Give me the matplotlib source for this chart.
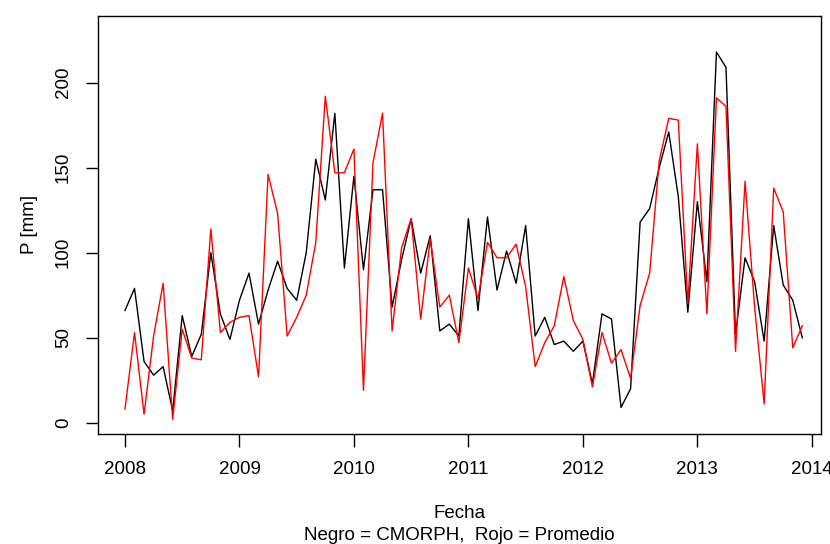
import numpy as np
import matplotlib
matplotlib.use("Agg")
import matplotlib.pyplot as plt

plt.rcParams['font.family'] = ['Liberation Sans', 'DejaVu Sans']

# ------------------------------
# datos mensuales 2008-01 .. 2013-12
# ------------------------------
inicio = 2008
cmorph = [66, 79, 36, 28, 33, 7, 63, 39, 52, 100, 64, 49,
          72, 88, 58, 78, 95, 79, 72, 100, 155, 131, 182, 91,
          145, 90, 137, 137, 68, 96, 120, 88, 110, 54, 58, 51,
          120, 66, 121, 78, 101, 82, 116, 51, 62, 46, 48, 42,
          48, 23, 64, 61, 9, 20, 118, 126, 150, 171, 133, 65,
          130, 83, 218, 209, 52, 97, 83, 48, 116, 81, 72, 50]
promedio = [8, 53, 5, 51, 82, 2, 55, 38, 37, 114, 53, 59,
            62, 63, 27, 146, 123, 51, 62, 75, 106, 192, 147, 147,
            161, 19, 153, 182, 54, 103, 120, 61, 108, 68, 75, 47,
            91, 73, 106, 97, 97, 105, 80, 33, 47, 57, 86, 60,
            49, 21, 53, 35, 43, 26, 69, 88, 154, 179, 178, 70,
            164, 64, 191, 186, 42, 142, 68, 11, 138, 124, 44, 57]
anios = [2008, 2009, 2010, 2011, 2012, 2013, 2014]
yticks = [0, 50, 100, 150, 200]

t = inicio + np.arange(len(cmorph)) / 12.0

fig = plt.figure(figsize=(8.30, 5.44), dpi=100)
ax = fig.add_axes([97.5/830, 1-434.3/544, (821-97.5)/830, (434.3-15.5)/544])

ax.plot(t, cmorph, color='black', lw=1.0)
ax.plot(t, promedio, color='#ff0000', lw=1.0)

ax.set_xlim(2007.76, 2014.08)
ax.set_ylim(-6.8, 239.5)
ax.set_xticks(anios)
ax.set_xticklabels([str(a) for a in anios])
ax.set_yticks(yticks)
ax.set_yticklabels([str(v) for v in yticks], rotation=90, va='center')
ax.tick_params(axis='x', length=9, width=1, pad=10, labelsize=13.5)
ax.tick_params(axis='y', length=8.5, width=1, pad=10, labelsize=13.5)
for s in ax.spines.values():
    s.set_linewidth(1.0)

ax.set_ylabel('P [mm]', fontsize=13.5, labelpad=12)
fig.text(0.5 * (97.5 + 821) / 830, 1 - 513/544, 'Fecha', ha='center', va='center', fontsize=13.5)
fig.text(0.5 * (97.5 + 821) / 830, 1 - 535/544, 'Negro = CMORPH,  Rojo = Promedio',
         ha='center', va='center', fontsize=13.5)

fig.savefig('out.png', dpi=100)
